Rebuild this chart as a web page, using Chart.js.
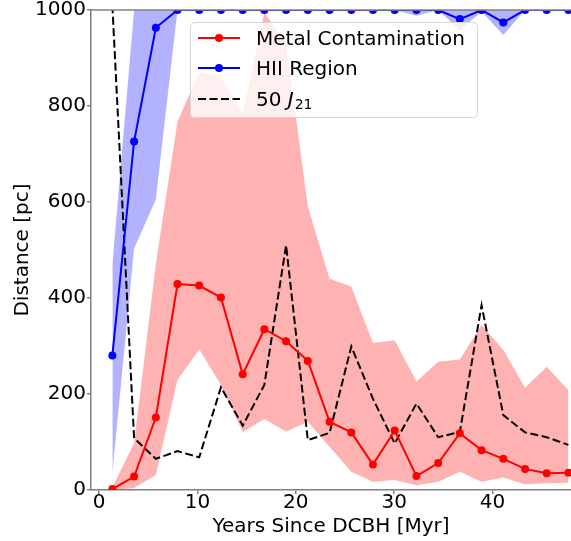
<!DOCTYPE html>
<html>
<head>
<meta charset="utf-8">
<script src="https://cdn.jsdelivr.net/npm/chart.js@4.4.1/dist/chart.umd.min.js"></script>
<style>
  body { margin: 0; background: #fff; }
</style>
</head>
<body>
<canvas id="distChart" width="571" height="541"></canvas>
<script>
// time of each snapshot [Myr]
const times = [1.35, 3.56, 5.77, 7.97, 10.18, 12.39, 14.6, 16.8, 19.01, 21.22, 23.43,
  25.64, 27.84, 30.05, 32.26, 34.47, 36.67, 38.88, 41.09, 43.3, 45.5, 47.71];

// metal contamination radius and its spread
const metal = [2, 28, 151, 429, 426, 401, 241, 335, 310, 269, 142, 120, 53, 124, 29, 56, 118, 83, 65, 44, 35, 36];
const metalLow = [0, 4, 31, 229, 293, 219, 121, 148, 122, 142, 90, 38, 17, 21, 10, 17, 38, 17, 26, 12, 14, 15];
const metalHigh = [5, 98, 471, 767, 871, 861, 785, 995, 930, 590, 440, 424, 306, 312, 226, 267, 272, 344, 292, 213, 257, 208];

// HII region radius and its spread
const hii = [280, 726, 963, 1000, 1000, 1000, 1000, 1000, 1000, 1000, 1000, 1000, 1000, 1000, 1000, 1000, 981, 1000, 974, 1000, 1000, 1000];
const hiiLow = [35, 503, 605, 1000, 1000, 1000, 1000, 1000, 1000, 1000, 1000, 1000, 1000, 1000, 988, 1000, 958, 997, 948, 1000, 1000, 1000];
const hiiHigh = [470, 1000, 1000, 1000, 1000, 1000, 1000, 1000, 1000, 1000, 1000, 1000, 1000, 1000, 1000, 1000, 1000, 1000, 1000, 1000, 1000, 1000];

// 50 J21 distance
const j21 = [1010, 108, 65, 81, 68, 214, 134, 219, 510, 104, 119, 299, 190, 97, 180, 110, 121, 385, 156, 120, 110, 94];

const xTicks = [0, 10, 20, 30, 40];
const yTicks = [0, 200, 400, 600, 800, 1000];

const pts = arr => times.map((t, i) => ({x: t, y: arr[i]}));

Chart.defaults.font.family = "'DejaVu Sans'";
Chart.defaults.font.size = 20;
Chart.defaults.color = '#000';

const SPINE = '#808080';

// legend drawn like the matplotlib one (line + marker, mathtext label)
const legendBox = {
  id: 'legendBox',
  afterDatasetsDraw(chart) {
    // top spine
    const c = chart.ctx;
    const {left, right, top} = chart.chartArea;
    c.save();
    c.strokeStyle = SPINE;
    c.lineWidth = 1.5;
    c.beginPath();
    c.moveTo(left, top);
    c.lineTo(right, top);
    c.stroke();
    c.restore();
  },
  afterDraw(chart) {
    const c = chart.ctx;
    c.save();
    c.beginPath();
    c.roundRect(190.5, 22.5, 287, 95, 4);
    c.fillStyle = 'rgba(255,255,255,0.8)';
    c.fill();
    c.strokeStyle = '#d6d6d6';
    c.lineWidth = 1;
    c.stroke();

    const rows = [
      {color: '#ff0000', dash: [], marker: true, y: 38, base: 45},
      {color: '#0000ff', dash: [], marker: true, y: 68, base: 75},
      {color: '#000000', dash: [8, 3.5], marker: false, y: 99, base: 106}
    ];
    rows.forEach(r => {
      c.strokeStyle = r.color;
      c.lineWidth = 2;
      c.setLineDash(r.dash);
      c.beginPath();
      c.moveTo(198, r.y);
      c.lineTo(240, r.y);
      c.stroke();
      c.setLineDash([]);
      if (r.marker) {
        c.fillStyle = r.color;
        c.beginPath();
        c.arc(219, r.y, 4, 0, Math.PI * 2);
        c.fill();
      }
    });

    c.fillStyle = '#000';
    c.textBaseline = 'alphabetic';
    c.font = "20px 'DejaVu Sans'";
    c.fillText('Metal Contamination', 256, rows[0].base);
    c.fillText('HII Region', 256, rows[1].base);
    c.fillText('50 ', 256, rows[2].base);
    let x = 256 + c.measureText('50 ').width;
    c.font = "italic 20px 'DejaVu Sans'";
    c.fillText('J', x, rows[2].base);
    x += c.measureText('J').width + 1;
    c.font = "14px 'DejaVu Sans'";
    c.fillText('21', x, rows[2].base + 3);
    c.restore();
  }
};

const ctx = document.getElementById('distChart').getContext('2d');

new Chart(ctx, {
  type: 'line',
  data: {
    datasets: [
      {
        label: 'Metal Contamination',
        data: pts(metal),
        borderColor: '#ff0000',
        backgroundColor: '#ff0000',
        borderWidth: 2,
        pointRadius: 4,
        pointBorderWidth: 0,
        tension: 0,
        fill: false,
        clip: 0,
        order: 1
      },
      {
        label: 'HII Region',
        data: pts(hii),
        borderColor: '#0000ff',
        backgroundColor: '#0000ff',
        borderWidth: 2,
        pointRadius: 4,
        pointBorderWidth: 0,
        fill: false,
        clip: 0,
        order: 2
      },
      {
        label: '50 J21',
        data: pts(j21),
        borderColor: '#000000',
        borderWidth: 2,
        borderDash: [8, 3.5],
        pointRadius: 0,
        fill: false,
        clip: 0,
        order: 3
      },
      {
        label: 'metal low',
        data: pts(metalLow),
        borderWidth: 0,
        pointRadius: 0,
        fill: false,
        order: 10
      },
      {
        label: 'metal high',
        data: pts(metalHigh),
        borderWidth: 0,
        pointRadius: 0,
        backgroundColor: 'rgba(255, 0, 0, 0.3)',
        fill: '-1',
        clip: 0,
        order: 10
      },
      {
        label: 'hii low',
        data: pts(hiiLow),
        borderWidth: 0,
        pointRadius: 0,
        fill: false,
        order: 9
      },
      {
        label: 'hii high',
        data: pts(hiiHigh),
        borderWidth: 0,
        pointRadius: 0,
        backgroundColor: 'rgba(0, 0, 255, 0.3)',
        fill: '-1',
        clip: 0,
        order: 9
      }
    ]
  },
  options: {
    responsive: false,
    animation: false,
    devicePixelRatio: 1,
    layout: {
      padding: {top: 10, left: 0, right: 0, bottom: 0},
      autoPadding: false
    },
    plugins: {
      legend: {display: false},
      tooltip: {enabled: false}
    },
    scales: {
      x: {
        type: 'linear',
        min: -0.82,
        max: 47.97,
        afterBuildTicks: axis => { axis.ticks = xTicks.map(v => ({value: v})); },
        afterFit: axis => { axis.height = 51; axis.paddingLeft = 0; axis.paddingRight = 0; },
        grid: {drawOnChartArea: false, tickLength: 4, color: SPINE, lineWidth: 1.5},
        border: {color: SPINE, width: 1.5},
        ticks: {padding: -3, maxRotation: 0, autoSkip: false, callback: v => String(v)},
        title: {display: true, text: 'Years Since DCBH [Myr]', padding: {top: 0, bottom: 2}}
      },
      y: {
        min: 0,
        max: 1000,
        afterBuildTicks: axis => { axis.ticks = yTicks.map(v => ({value: v})); },
        afterFit: axis => { axis.width = 91; axis.paddingTop = 0; axis.paddingBottom = 0; },
        grid: {drawOnChartArea: false, tickLength: 4, color: SPINE, lineWidth: 1.5},
        border: {color: SPINE, width: 1.5},
        ticks: {padding: 1, autoSkip: false, callback: v => String(v)},
        title: {display: true, text: 'Distance [pc]', padding: {top: 11, bottom: 0}}
      }
    }
  },
  plugins: [legendBox]
});
</script>
</body>
</html>
